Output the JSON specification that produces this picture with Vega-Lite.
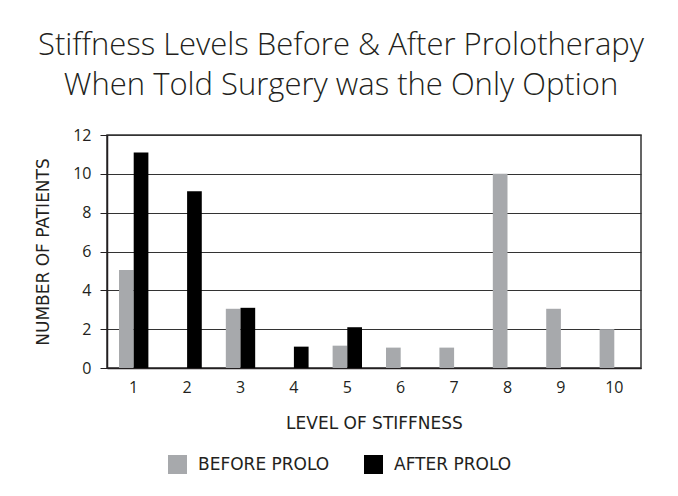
{
  "$schema": "https://vega.github.io/schema/vega-lite/v6.json",
  "autosize": {"type": "none"},
  "width": 534,
  "height": 233,
  "padding": {"left": 107, "top": 135, "right": 37, "bottom": 128},
  "background": "white",
  "title": {
    "text": ["Stiffness Levels Before & After Prolotherapy", "When Told Surgery was the Only Option"],
    "font": "Open Sans",
    "fontWeight": 300,
    "fontSize": 31,
    "color": "#231f20",
    "anchor": "middle",
    "frame": "group",
    "dx": -33,
    "lineHeight": 40,
    "offset": 25
  },
  "data": {
    "values": [
      {"level": "1", "group": "BEFORE PROLO", "patients": 5.05},
      {"level": "1", "group": "AFTER PROLO", "patients": 11.1},
      {"level": "2", "group": "AFTER PROLO", "patients": 9.1},
      {"level": "3", "group": "BEFORE PROLO", "patients": 3.05},
      {"level": "3", "group": "AFTER PROLO", "patients": 3.1},
      {"level": "4", "group": "AFTER PROLO", "patients": 1.1},
      {"level": "5", "group": "BEFORE PROLO", "patients": 1.15},
      {"level": "5", "group": "AFTER PROLO", "patients": 2.1},
      {"level": "6", "group": "BEFORE PROLO", "patients": 1.05},
      {"level": "7", "group": "BEFORE PROLO", "patients": 1.05},
      {"level": "8", "group": "BEFORE PROLO", "patients": 10.0},
      {"level": "9", "group": "BEFORE PROLO", "patients": 3.05},
      {"level": "10", "group": "BEFORE PROLO", "patients": 2.0}
    ]
  },
  "mark": {"type": "bar"},
  "encoding": {
    "x": {
      "field": "level",
      "type": "ordinal",
      "sort": ["1", "2", "3", "4", "5", "6", "7", "8", "9", "10"],
      "scale": {"paddingInner": 0.45, "paddingOuter": 0.225},
      "axis": {
        "title": "LEVEL OF STIFFNESS",
        "labelAngle": 0,
        "ticks": false,
        "labelPadding": 11,
        "titlePadding": 20,
        "domainColor": "#231f20",
        "domainWidth": 1.5
      }
    },
    "xOffset": {
      "field": "group",
      "type": "nominal",
      "sort": ["BEFORE PROLO", "AFTER PROLO"],
      "scale": {"paddingInner": 0, "paddingOuter": 0}
    },
    "y": {
      "field": "patients",
      "type": "quantitative",
      "scale": {"domain": [0, 12], "nice": false},
      "axis": {
        "title": "NUMBER OF PATIENTS",
        "values": [0, 2, 4, 6, 8, 10, 12],
        "tickSize": 7,
        "tickColor": "#231f20",
        "labelPadding": 9,
        "titlePadding": 20,
        "grid": true,
        "gridColor": "#333333",
        "gridWidth": 1,
        "domainColor": "#231f20",
        "domainWidth": 1.5
      }
    },
    "color": {
      "field": "group",
      "type": "nominal",
      "sort": ["BEFORE PROLO", "AFTER PROLO"],
      "scale": {"domain": ["BEFORE PROLO", "AFTER PROLO"], "range": ["#a7a9ac", "#000000"]},
      "legend": {
        "title": null,
        "orient": "none",
        "direction": "horizontal",
        "legendX": 61,
        "legendY": 320,
        "symbolType": "square",
        "symbolSize": 361,
        "symbolStrokeWidth": 0,
        "symbolOpacity": 1,
        "labelOffset": 11,
        "columnPadding": 34,
        "labelFontSize": 17,
        "labelFont": "DejaVu Sans",
        "labelColor": "#231f20"
      }
    }
  },
  "config": {
    "view": {"stroke": "#333333", "strokeWidth": 1.5},
    "axis": {
      "labelFont": "Open Sans",
      "labelFontSize": 16,
      "labelColor": "#231f20",
      "titleFont": "DejaVu Sans",
      "titleFontSize": 17,
      "titleFontWeight": "normal",
      "titleColor": "#231f20"
    }
  }
}
